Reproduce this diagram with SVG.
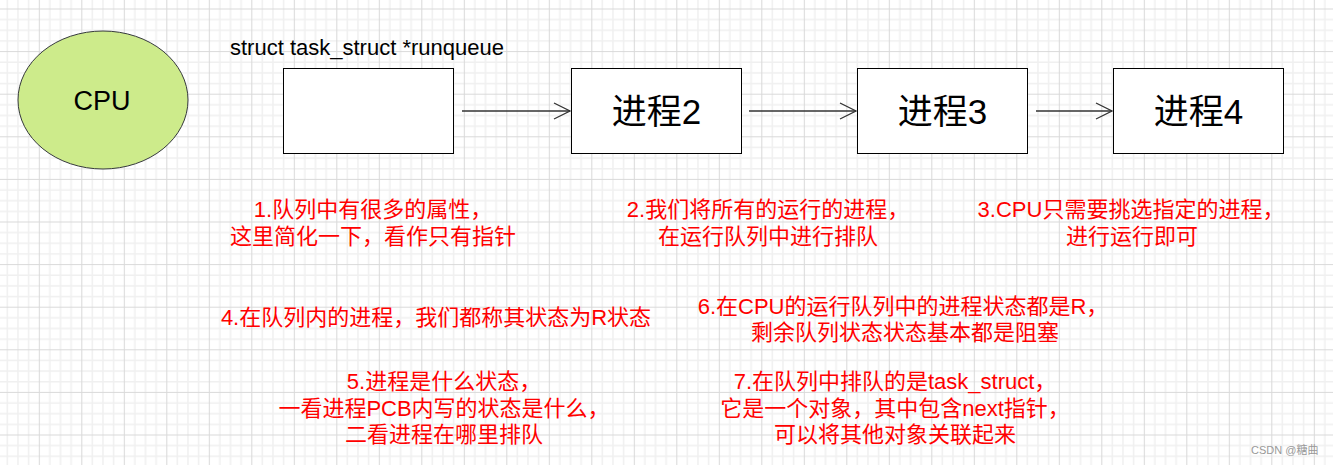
<svg xmlns="http://www.w3.org/2000/svg" width="1333" height="465" viewBox="0 0 1333 465">
<defs>
<pattern id="grid" width="42.5" height="42.6" patternUnits="userSpaceOnUse" x="-3.7" y="8.5">
<rect width="42.5" height="42.6" fill="#ffffff"/>
<path d="M11.1 0V42.6M21.7 0V42.6M32.3 0V42.6M0 11.1H42.5M0 21.8H42.5M0 32.4H42.5" stroke="#f0f0f0" stroke-width="1.5" fill="none"/>
<path d="M0.5 0V42.6M0 0.5H42.5" stroke="#d9d9d9" stroke-width="1" fill="none"/>
</pattern>
<marker id="open" markerWidth="20" markerHeight="20" refX="17" refY="9" orient="auto" markerUnits="userSpaceOnUse">
<path d="M1 1L17 9L1 17" fill="none" stroke="#333333" stroke-width="1.3"/>
</marker>
<style>
.box{fill:#ffffff;stroke:#000000;stroke-width:1}
.boxtxt{font-family:"Liberation Sans","Noto Sans CJK SC",sans-serif;font-size:35px;fill:#000000;text-anchor:middle}
.note{font-family:"Liberation Sans","Noto Sans CJK SC",sans-serif;font-size:22px;fill:#ff0000;text-anchor:middle}
.conn{stroke:#333333;stroke-width:1.3;fill:none}
</style>
</defs>
<rect width="1333" height="465" fill="url(#grid)"/>

<g id="cpu">
<ellipse cx="103" cy="100" rx="85" ry="69" fill="#cdeb8b" stroke="#36393d" stroke-width="1"/>
<text x="102" y="109.5" font-family="Liberation Sans, sans-serif" font-size="27" text-anchor="middle" fill="#000000">CPU</text>
</g>

<g id="runqueue-label">
<text x="230" y="55" font-family="Liberation Sans, sans-serif" font-size="22" fill="#000000">struct task_struct *runqueue</text>
</g>

<g id="runqueue">
<rect class="box" x="283.5" y="68.5" width="170" height="85"/>
</g>
<g id="proc2">
<rect class="box" x="571.5" y="68.5" width="170" height="85"/>
<text class="boxtxt" x="656.5" y="123.5">进程2</text>
</g>
<g id="proc3">
<rect class="box" x="857.5" y="68.5" width="170" height="85"/>
<text class="boxtxt" x="942.5" y="123.5">进程3</text>
</g>
<g id="proc4">
<rect class="box" x="1113.5" y="68.5" width="170" height="85"/>
<text class="boxtxt" x="1198.5" y="123.5">进程4</text>
</g>

<g id="connectors">
<line class="conn" x1="462" y1="111" x2="570" y2="111" marker-end="url(#open)"/>
<line class="conn" x1="749" y1="111" x2="856" y2="111" marker-end="url(#open)"/>
<line class="conn" x1="1036" y1="111" x2="1112" y2="111" marker-end="url(#open)"/>
</g>

<g id="note1">
<text class="note" x="373" y="217">1.队列中有很多的属性，</text>
<text class="note" x="373" y="243.5">这里简化一下，看作只有指针</text>
</g>
<g id="note2">
<text class="note" x="768" y="217">2.我们将所有的运行的进程，</text>
<text class="note" x="768" y="243.5">在运行队列中进行排队</text>
</g>
<g id="note3">
<text class="note" x="1131" y="217">3.CPU只需要挑选指定的进程，</text>
<text class="note" x="1132" y="243.5">进行运行即可</text>
</g>
<g id="note4">
<text class="note" x="436" y="325">4.在队列内的进程，我们都称其状态为R状态</text>
</g>
<g id="note6">
<text class="note" x="903" y="313.5">6.在CPU的运行队列中的进程状态都是R，</text>
<text class="note" x="905" y="340">剩余队列状态状态基本都是阻塞</text>
</g>
<g id="note5">
<text class="note" x="444" y="389">5.进程是什么状态，</text>
<text class="note" x="444" y="415.5">一看进程PCB内写的状态是什么，</text>
<text class="note" x="444" y="442">二看进程在哪里排队</text>
</g>
<g id="note7">
<text class="note" x="895" y="389">7.在队列中排队的是task_struct，</text>
<text class="note" x="895" y="415.5">它是一个对象，其中包含next指针，</text>
<text class="note" x="895" y="442">可以将其他对象关联起来</text>
</g>

<g id="watermark">
<text x="1251" y="454" font-family="Liberation Sans, Noto Sans CJK SC, sans-serif" font-size="11" fill="#999999">CSDN @糖曲</text>
</g>
</svg>
